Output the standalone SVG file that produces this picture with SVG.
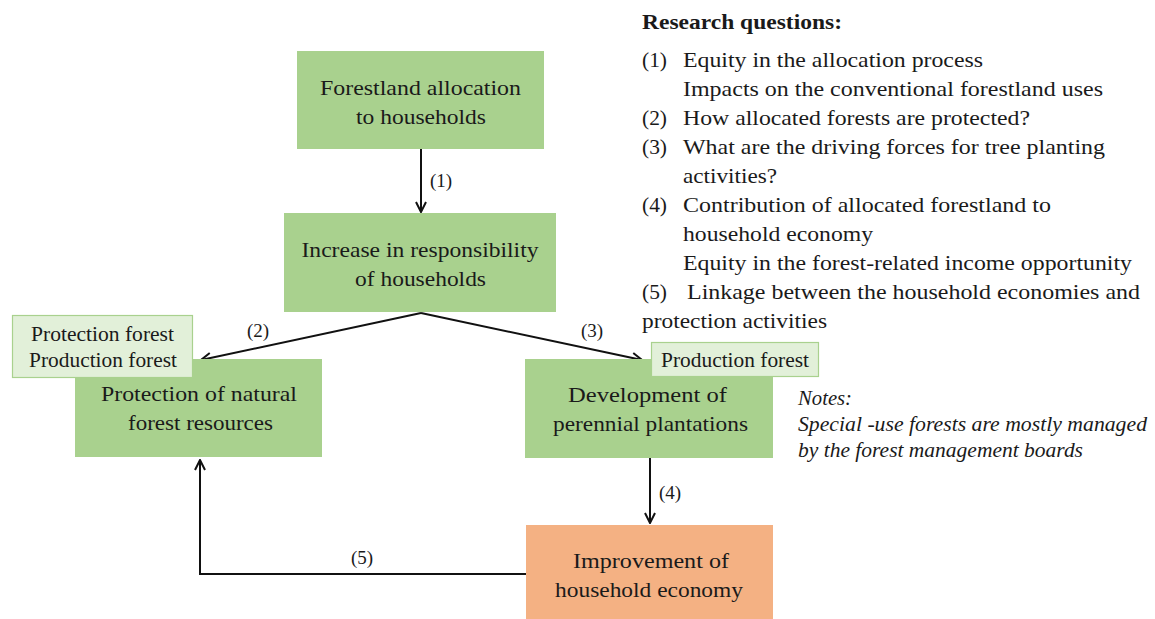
<svg xmlns="http://www.w3.org/2000/svg" width="1155" height="619" viewBox="0 0 1155 619">
  <style>
    text { font-family: "Liberation Serif", "Times New Roman", serif; fill: #1a1a1a; }
    .node { fill: #a9d18e; }
    .tag { fill: #e2f0d9; stroke: #a9d18e; stroke-width: 1.2; }
    .econ { fill: #f4b183; }
    .lbl { font-size: 22px; text-anchor: middle; }
    .tagtxt { font-size: 21px; text-anchor: middle; }
    .num { font-size: 19px; text-anchor: middle; }
    .q { font-size: 22px; }
    .note { font-size: 22px; font-style: italic; }
    .edge { fill: none; stroke: #111; stroke-width: 2; }
  </style>
  <defs>
    <marker id="arrow" viewBox="0 0 12 12" refX="11" refY="6" markerWidth="12" markerHeight="12" markerUnits="userSpaceOnUse" orient="auto">
      <path d="M1,1 L11,6 L1,11" fill="none" stroke="#111" stroke-width="2"/>
    </marker>
  </defs>

  <rect width="1155" height="619" fill="#ffffff"/>

  <!-- Connectors and their step numbers -->
  <g id="connectors">
    <line class="edge" x1="421" y1="149" x2="421" y2="212" marker-end="url(#arrow)"/>
    <polyline class="edge" points="421,313 201,360" marker-end="url(#arrow)"/>
    <polyline class="edge" points="421,313 642,360" marker-end="url(#arrow)"/>
    <line class="edge" x1="650" y1="458" x2="650" y2="523" marker-end="url(#arrow)"/>
    <polyline class="edge" points="526,574 200,574 200,460" marker-end="url(#arrow)"/>
    <text class="num" x="441" y="187">(1)</text>
    <text class="num" x="258" y="337">(2)</text>
    <text class="num" x="592" y="337">(3)</text>
    <text class="num" x="670" y="499">(4)</text>
    <text class="num" x="362" y="564">(5)</text>
  </g>

  <g id="node-allocation">
    <rect class="node" x="297" y="51" width="247" height="98"/>
    <text class="lbl" x="420.5" y="95" textLength="201" lengthAdjust="spacingAndGlyphs">Forestland allocation</text>
    <text class="lbl" x="421" y="124" textLength="130" lengthAdjust="spacingAndGlyphs">to households</text>
  </g>

  <g id="node-responsibility">
    <rect class="node" x="284" y="213" width="272" height="99"/>
    <text class="lbl" x="420" y="257" textLength="237" lengthAdjust="spacingAndGlyphs">Increase in responsibility</text>
    <text class="lbl" x="420.5" y="286" textLength="131" lengthAdjust="spacingAndGlyphs">of households</text>
  </g>

  <g id="node-protection">
    <rect class="node" x="75" y="359" width="247" height="98"/>
    <text class="lbl" x="199" y="401" textLength="196" lengthAdjust="spacingAndGlyphs">Protection of natural</text>
    <text class="lbl" x="200.5" y="430" textLength="145" lengthAdjust="spacingAndGlyphs">forest resources</text>
  </g>

  <g id="tag-protection">
    <rect class="tag" x="12.5" y="315.5" width="180" height="62"/>
    <text class="tagtxt" x="102.5" y="341" textLength="143" lengthAdjust="spacingAndGlyphs">Protection forest</text>
    <text class="tagtxt" x="103" y="367" textLength="148" lengthAdjust="spacingAndGlyphs">Production forest</text>
  </g>

  <g id="node-plantations">
    <rect class="node" x="525" y="359" width="248" height="99"/>
    <text class="lbl" x="647.5" y="402" textLength="159" lengthAdjust="spacingAndGlyphs">Development of</text>
    <text class="lbl" x="650.5" y="431" textLength="195" lengthAdjust="spacingAndGlyphs">perennial plantations</text>
  </g>

  <g id="tag-production">
    <rect class="tag" x="651.5" y="342.5" width="167" height="34"/>
    <text class="tagtxt" x="735" y="367" textLength="148" lengthAdjust="spacingAndGlyphs">Production forest</text>
  </g>

  <g id="node-economy">
    <rect class="econ" x="526" y="525" width="247" height="94"/>
    <text class="lbl" x="651" y="568" textLength="156" lengthAdjust="spacingAndGlyphs">Improvement of</text>
    <text class="lbl" x="649" y="597" textLength="188" lengthAdjust="spacingAndGlyphs">household economy</text>
  </g>

  <!-- Research questions list -->
  <g id="questions">
    <text class="q" x="642" y="29" font-weight="bold" textLength="200" lengthAdjust="spacingAndGlyphs">Research questions:</text>
    <text class="q" x="642" y="67" textLength="25" lengthAdjust="spacingAndGlyphs">(1)</text>
    <text class="q" x="683" y="67" textLength="300" lengthAdjust="spacingAndGlyphs">Equity in the allocation process</text>
    <text class="q" x="683" y="96" textLength="420" lengthAdjust="spacingAndGlyphs">Impacts on the conventional forestland uses</text>
    <text class="q" x="642" y="125" textLength="25" lengthAdjust="spacingAndGlyphs">(2)</text>
    <text class="q" x="683" y="125" textLength="347" lengthAdjust="spacingAndGlyphs">How allocated forests are protected?</text>
    <text class="q" x="642" y="154" textLength="25" lengthAdjust="spacingAndGlyphs">(3)</text>
    <text class="q" x="683" y="154" textLength="422" lengthAdjust="spacingAndGlyphs">What are the driving forces for tree planting</text>
    <text class="q" x="683" y="183" textLength="94" lengthAdjust="spacingAndGlyphs">activities?</text>
    <text class="q" x="642" y="212" textLength="25" lengthAdjust="spacingAndGlyphs">(4)</text>
    <text class="q" x="683" y="212" textLength="368" lengthAdjust="spacingAndGlyphs">Contribution of allocated forestland to</text>
    <text class="q" x="683" y="241" textLength="190" lengthAdjust="spacingAndGlyphs">household economy</text>
    <text class="q" x="683" y="270" textLength="449" lengthAdjust="spacingAndGlyphs">Equity in the forest-related income opportunity</text>
    <text class="q" x="642" y="299" textLength="25" lengthAdjust="spacingAndGlyphs">(5)</text>
    <text class="q" x="687" y="299" textLength="453" lengthAdjust="spacingAndGlyphs">Linkage between the household economies and</text>
    <text class="q" x="642" y="328" textLength="185" lengthAdjust="spacingAndGlyphs">protection activities</text>
  </g>

  <g id="notes">
    <text class="note" x="798" y="405" textLength="54" lengthAdjust="spacingAndGlyphs">Notes:</text>
    <text class="note" x="798" y="431" textLength="349" lengthAdjust="spacingAndGlyphs">Special -use forests are mostly managed</text>
    <text class="note" x="798" y="457" textLength="285" lengthAdjust="spacingAndGlyphs">by the forest management boards</text>
  </g>
</svg>
